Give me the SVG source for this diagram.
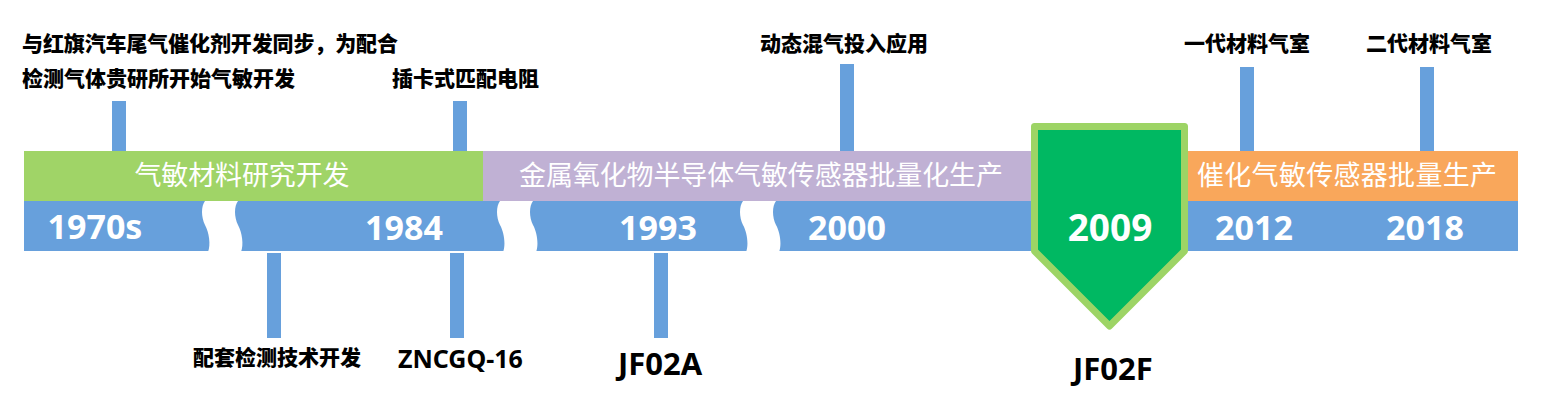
<svg xmlns="http://www.w3.org/2000/svg" xmlns:xlink="http://www.w3.org/1999/xlink" width="1555" height="417" viewBox="0 0 1555 417">
<style>
.band-t{font-family:"Noto Sans CJK SC","Noto Sans",sans-serif;font-size:27px;fill:#ffffff;text-anchor:middle}
.year{font-family:"Noto Sans","Noto Sans CJK SC",sans-serif;font-size:34px;font-weight:700;fill:#ffffff;text-anchor:middle}
.lbl{font-family:"Noto Sans CJK SC",sans-serif;font-size:21px;font-weight:900;fill:#000000}
.code{font-family:"Noto Sans","Noto Sans CJK SC",sans-serif;font-weight:700;fill:#000000}
.tick{fill:#67a0dc}
</style>
<defs>
<path id="brk" d="M3,0 C-1,5 -1,16 3,24 C7,31 9,44 6,51 L39,51 C42,44 40,31 36,24 C32,16 32,5 36,0 Z" fill="#ffffff"/>
</defs>
<rect width="1555" height="417" fill="#ffffff"/>

<g id="connectors">
<rect class="tick" x="112" y="101" width="14" height="50"/>
<rect class="tick" x="453" y="101" width="14" height="50"/>
<rect class="tick" x="840" y="64" width="14" height="87"/>
<rect class="tick" x="1240" y="67" width="14" height="84"/>
<rect class="tick" x="1420" y="67" width="14" height="84"/>
<rect class="tick" x="267" y="253" width="14" height="85"/>
<rect class="tick" x="450" y="253" width="14" height="85"/>
<rect class="tick" x="654" y="253" width="14" height="85"/>
</g>

<g id="timeline-bar">
<rect x="24" y="201" width="1494" height="50" fill="#67a0dc"/>
<use xlink:href="#brk" x="202" y="201"/>
<use xlink:href="#brk" x="497" y="201"/>
<use xlink:href="#brk" x="740" y="201"/>
</g>

<g id="phase-materials">
<rect x="24" y="151" width="459" height="50" fill="#a0d467"/>
<text class="band-t" x="242" y="185" textLength="215" lengthAdjust="spacing">气敏材料研究开发</text>
</g>
<g id="phase-mos">
<rect x="483" y="151" width="552" height="50" fill="#c0b1d4"/>
<text class="band-t" x="761" y="185" textLength="484" lengthAdjust="spacing">金属氧化物半导体气敏传感器批量化生产</text>
</g>
<g id="phase-catalytic">
<rect x="1186" y="151" width="332" height="50" fill="#f9a75b"/>
<text class="band-t" x="1347" y="185" textLength="300" lengthAdjust="spacing">催化气敏传感器批量生产</text>
</g>

<g id="years">
<text class="year" x="95" y="239">1970s</text>
<text class="year" x="404" y="240">1984</text>
<text class="year" x="658" y="240">1993</text>
<text class="year" x="847" y="240">2000</text>
<text class="year" x="1254" y="240">2012</text>
<text class="year" x="1425" y="240">2018</text>
</g>

<g id="milestone-2009">
<polygon points="1034.5,126.5 1184.5,126.5 1184.5,251 1109.5,326 1034.5,251" fill="#00b862" stroke="#9dd465" stroke-width="7" stroke-linejoin="round"/>
<text class="year" x="1110" y="241" style="font-size:37px">2009</text>
</g>

<g id="labels-top">
<text class="lbl" x="22" y="51" textLength="376" lengthAdjust="spacing">与红旗汽车尾气催化剂开发同步，为配合</text>
<text class="lbl" x="22" y="86">检测气体贵研所开始气敏开发</text>
<text class="lbl" x="392" y="86">插卡式匹配电阻</text>
<text class="lbl" x="760" y="51">动态混气投入应用</text>
<text class="lbl" x="1184" y="51">一代材料气室</text>
<text class="lbl" x="1366" y="51">二代材料气室</text>
</g>

<g id="labels-bottom">
<text class="lbl" x="193" y="365">配套检测技术开发</text>
<text class="code" x="398" y="368" style="font-size:25px">ZNCGQ-16</text>
<text class="code" x="618" y="375" style="font-size:31px">JF02A</text>
<text class="code" x="1073" y="380" style="font-size:31px">JF02F</text>
</g>
</svg>
